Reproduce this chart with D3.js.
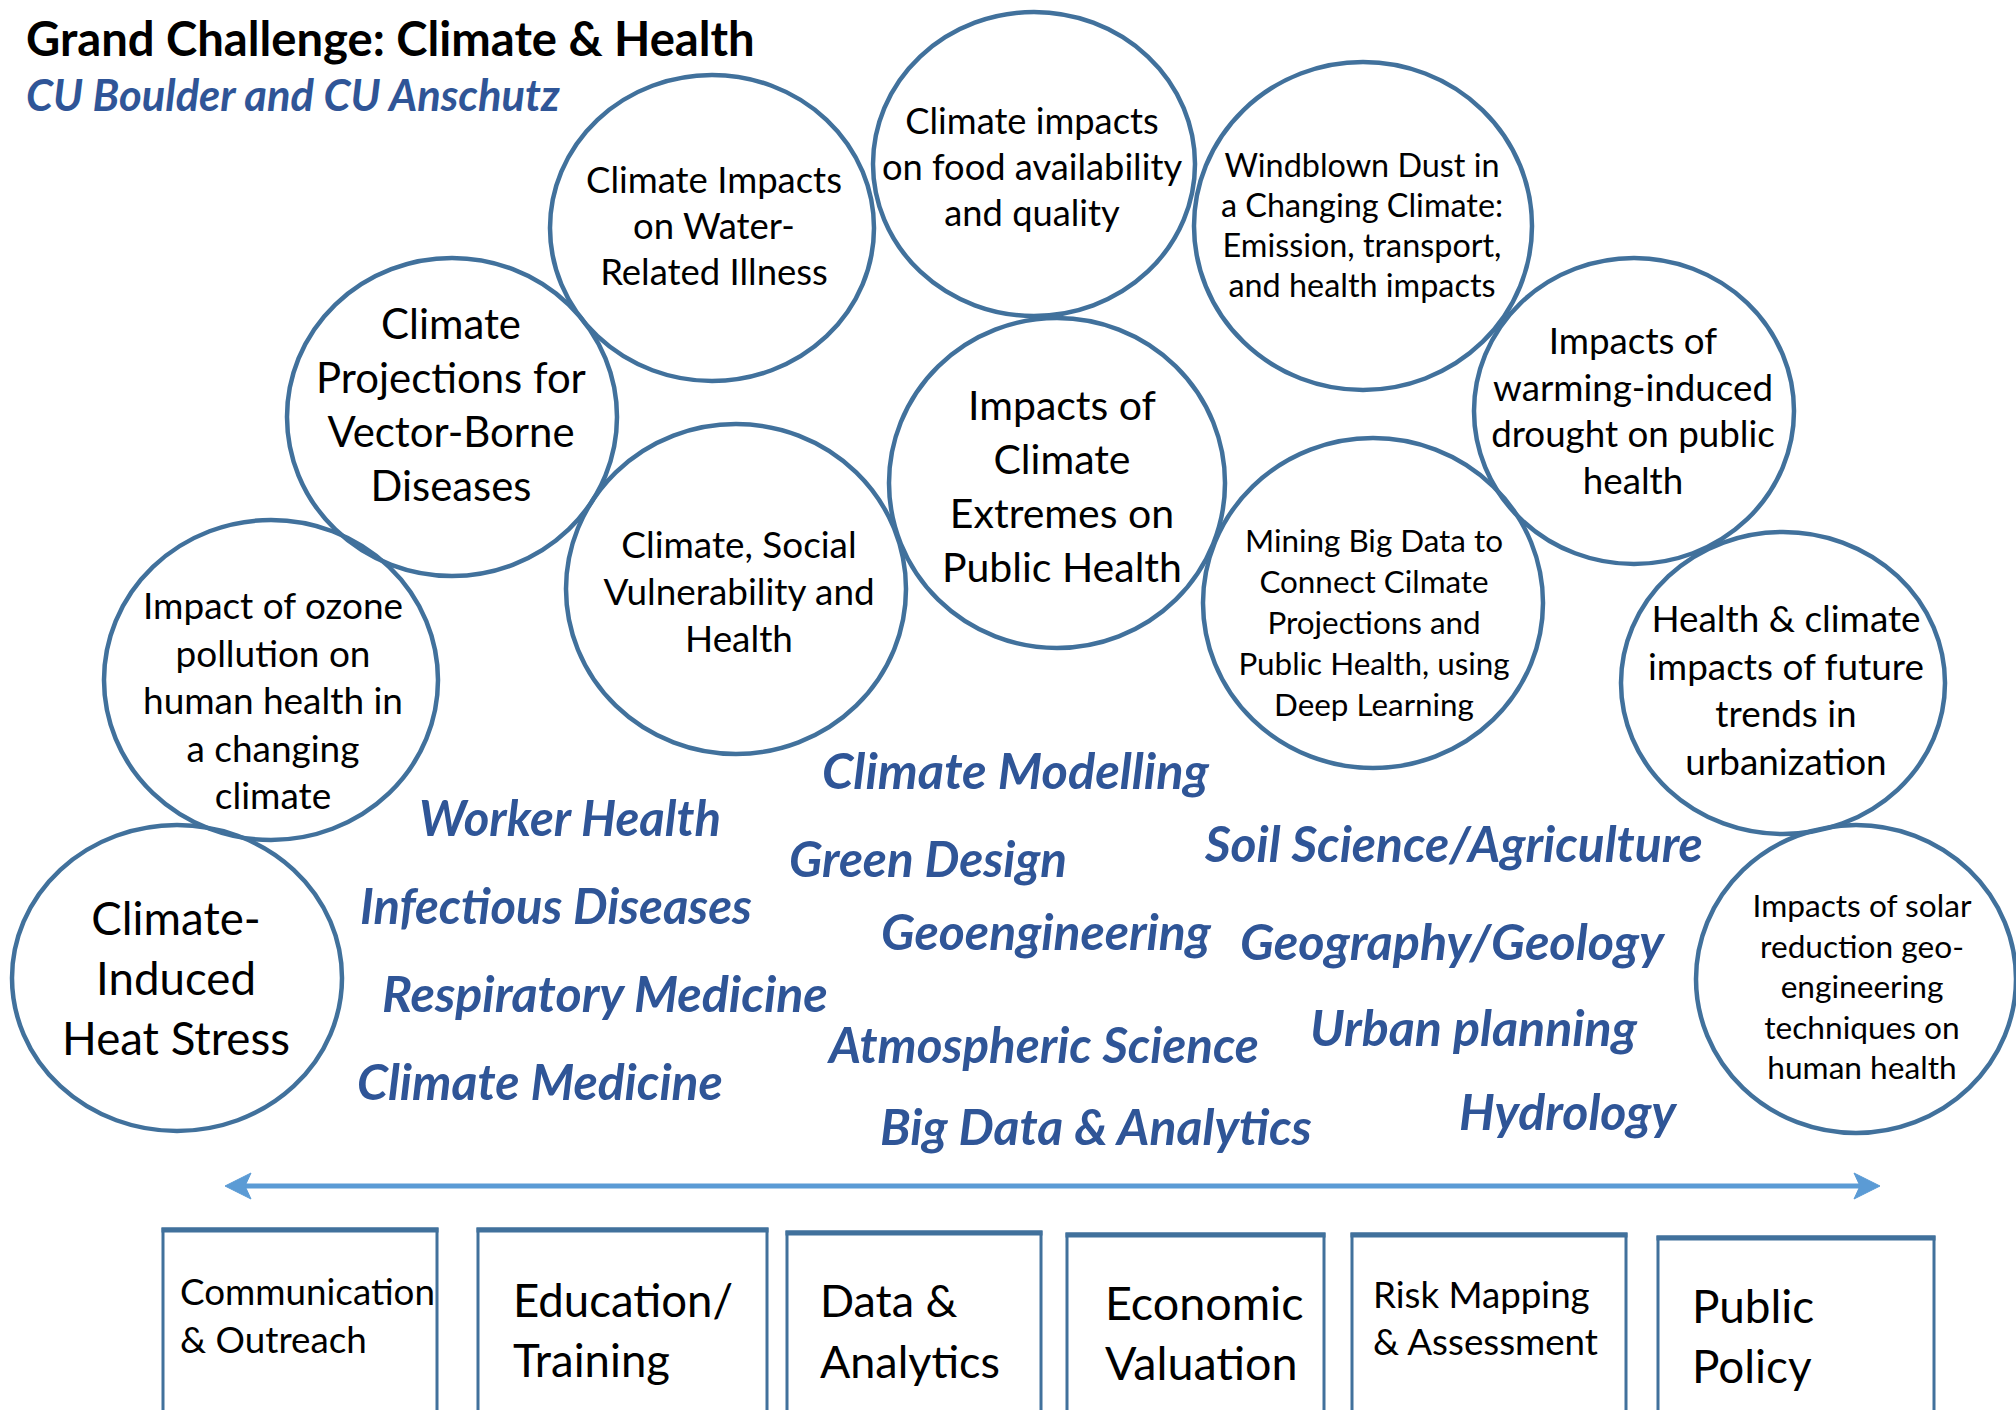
<!DOCTYPE html>
<html>
<head>
<meta charset="utf-8">
<script src="https://cdn.jsdelivr.net/npm/d3@7"></script>
<style>
  body { margin: 0; background: #fff; }
  svg { display: block; }
</style>
</head>
<body>
<div id="chart"></div>
<script>
// ---- data ----
const title = "Grand Challenge: Climate & Health"
const subtitle = "CU Boulder and CU Anschutz"

const topics = [
  ["Climate Impacts", "on Water-", "Related Illness"],
  ["Climate impacts", "on food availability", "and quality"],
  ["Windblown Dust in", "a Changing Climate:", "Emission, transport,", "and health impacts"],
  ["Impacts of", "warming-induced", "drought on public", "health"],
  ["Impacts of", "Climate", "Extremes on", "Public Health"],
  ["Mining Big Data to", "Connect Cilmate", "Projections and", "Public Health, using", "Deep Learning"],
  ["Health & climate", "impacts of future", "trends in", "urbanization"],
  ["Impacts of solar", "reduction geo-", "engineering", "techniques on", "human health"],
  ["Climate", "Projections for", "Vector-Borne", "Diseases"],
  ["Climate, Social", "Vulnerability and", "Health"],
  ["Impact of ozone", "pollution on", "human health in", "a changing", "climate"],
  ["Climate-", "Induced", "Heat Stress"]
]

const disciplines = [
  "Climate Modelling", "Worker Health", "Green Design", "Soil Science/Agriculture",
  "Infectious Diseases", "Geoengineering", "Geography/Geology", "Respiratory Medicine",
  "Atmospheric Science", "Urban planning", "Climate Medicine", "Big Data & Analytics", "Hydrology"
]

const capabilities = [
  ["Communication", "& Outreach"],
  ["Education/", "Training"],
  ["Data &", "Analytics"],
  ["Economic", "Valuation"],
  ["Risk Mapping", "& Assessment"],
  ["Public", "Policy"]
]

// ---- layout (reference units, 2016 x 1410) ----
// circles: cx, cy, rx, ry, text x, text centre y, line gap, fit line, fit width
const circleLayout = [
  [712, 228, 162, 153, 714, 226, 46, 0, 256],
  [1034, 164, 161, 152, 1032, 167, 46, 1, 300],
  [1363, 226, 169, 164, 1362, 225, 40, 2, 279],
  [1634, 411, 160, 153, 1633, 411, 46.5, 1, 280],
  [1057, 483, 168, 165, 1062, 486, 54, 3, 240],
  [1373, 603, 170, 165, 1374, 623, 41, 3, 271],
  [1783, 683, 162, 151, 1786, 690, 47.5, 1, 276],
  [1856, 979, 160, 154, 1862, 987, 40.5, 0, 219],
  [452, 417, 165, 159, 451, 405, 54, 1, 269],
  [736, 589, 170, 165, 739, 592, 47, 1, 271],
  [271, 680, 167, 160, 273, 701, 47.5, 2, 260],
  [177, 978, 165, 153, 176, 979, 60, 2, 228]
]
// disciplines: left x, baseline, width
const disciplineLayout = [
  [822, 789, 387], [419, 836, 302], [789, 877, 278], [1205, 862, 498],
  [360, 924, 392], [881, 950, 330], [1240, 960, 424], [382, 1012, 446],
  [829, 1063, 430], [1310, 1046, 327], [357, 1100, 366], [880, 1145, 432],
  [1459, 1130, 217]
]
// boxes: x0, x1, top, text x, baseline1, baseline2, fit line, fit width
const boxLayout = [
  [163, 437, 1229, 180, 1305, 1353, 0, 255],
  [478, 767, 1229, 513, 1317, 1377, 0, 220],
  [787, 1041, 1232, 820, 1317, 1378, 1, 180],
  [1067, 1324, 1234, 1105, 1320, 1380, 0, 196],
  [1352, 1626, 1234, 1373, 1308, 1355, 1, 225],
  [1658, 1934, 1237, 1692, 1323, 1383, 0, 122]
]
const arrowSpan = [225, 1880, 1186]

const W = 2016, H = 1410
const x = d3.scaleLinear().domain([0, 2016]).range([0, W])
const y = d3.scaleLinear().domain([0, 1410]).range([0, H])

const FONT = "Lato, 'Open Sans', sans-serif"
const CIRCLE_STROKE = "#41719c"
const LABEL_BLUE = "#2f5597"

const svg = d3.select("#chart").append("svg")
  .attr("width", W).attr("height", H)
  .attr("viewBox", [0, 0, W, H])

// size a text so a given tspan/text gets the wanted width
function fitFont(node, base, target){
  const w = node.getComputedTextLength()
  return base * target / w
}

// title
const t = svg.append("text").text(title)
  .attr("x", x(26)).attr("y", y(56))
  .attr("font-family", FONT).attr("font-weight", 700)
  .attr("font-size", 40).attr("fill", "#000")
t.attr("font-size", fitFont(t.node(), 40, 729))

const st = svg.append("text").text(subtitle)
  .attr("x", x(26)).attr("y", y(111))
  .attr("font-family", FONT).attr("font-weight", 700).attr("font-style", "italic")
  .attr("font-size", 30).attr("fill", LABEL_BLUE)
st.attr("font-size", fitFont(st.node(), 30, 534))

// circles
const circles = svg.append("g")
topics.forEach((lines, i) => {
  const [cx, cy, rx, ry, tx, ty, gap, fitLine, fitW] = circleLayout[i]
  const g = circles.append("g")
  g.append("ellipse")
    .attr("cx", x(cx)).attr("cy", y(cy))
    .attr("rx", x(rx)).attr("ry", y(ry))
    .attr("fill", "none").attr("stroke", CIRCLE_STROKE).attr("stroke-width", 4.5)
  const txt = g.append("text")
    .attr("font-family", FONT).attr("font-size", 40)
    .attr("text-anchor", "middle").attr("fill", "#000")
  const spans = txt.selectAll("tspan").data(lines).enter().append("tspan").text(d => d)
  const fs = fitFont(spans.nodes()[fitLine], 40, fitW)
  txt.attr("font-size", fs)
  spans
    .attr("x", x(tx))
    .attr("y", (d, j) => y(ty + (j - (lines.length - 1) / 2) * gap) + fs * 0.36)
})

// discipline labels
svg.append("g").selectAll("text").data(disciplines).enter().append("text")
  .text(d => d)
  .attr("x", (d, i) => x(disciplineLayout[i][0]))
  .attr("y", (d, i) => y(disciplineLayout[i][1]))
  .attr("font-family", FONT).attr("font-weight", 700).attr("font-style", "italic")
  .attr("font-size", 40).attr("fill", LABEL_BLUE)
  .each(function(d, i){
    d3.select(this).attr("font-size", fitFont(this, 40, disciplineLayout[i][2]))
  })

// double-headed arrow
const [ax0, ax1, ay] = arrowSpan
const arrow = svg.append("g").attr("fill", "#5b9bd5").attr("stroke", "#5b9bd5")
arrow.append("line")
  .attr("x1", x(ax0 + 15)).attr("x2", x(ax1 - 15))
  .attr("y1", y(ay)).attr("y2", y(ay))
  .attr("stroke-width", 5)
const head = (tip, dir) => {
  const p = d3.path()
  p.moveTo(x(tip), y(ay))
  p.lineTo(x(tip + dir * 26), y(ay - 13))
  p.lineTo(x(tip + dir * 20), y(ay))
  p.lineTo(x(tip + dir * 26), y(ay + 13))
  p.closePath()
  return p.toString()
}
arrow.append("path").attr("d", head(ax0, 1)).attr("stroke-width", 1)
arrow.append("path").attr("d", head(ax1, -1)).attr("stroke-width", 1)

// capability boxes
const boxes = svg.append("g")
capabilities.forEach((lines, i) => {
  const [x0, x1, top, tx, b1, b2, fitLine, fitW] = boxLayout[i]
  const g = boxes.append("g")
  g.append("rect")
    .attr("x", x(x0)).attr("y", y(top))
    .attr("width", x(x1) - x(x0)).attr("height", y(1430) - y(top))
    .attr("fill", "#fff").attr("stroke", CIRCLE_STROKE).attr("stroke-width", 3)
  g.append("line")
    .attr("x1", x(x0) - 1.5).attr("x2", x(x1) + 1.5)
    .attr("y1", y(top) + 1).attr("y2", y(top) + 1)
    .attr("stroke", CIRCLE_STROKE).attr("stroke-width", 5)
  const txt = g.append("text")
    .attr("font-family", FONT).attr("font-size", 40).attr("fill", "#000")
  const spans = txt.selectAll("tspan").data(lines).enter().append("tspan").text(d => d)
  const fs = fitFont(spans.nodes()[fitLine], 40, fitW)
  txt.attr("font-size", fs)
  spans.attr("x", x(tx)).attr("y", (d, j) => y(j === 0 ? b1 : b2))
})
</script>
</body>
</html>
